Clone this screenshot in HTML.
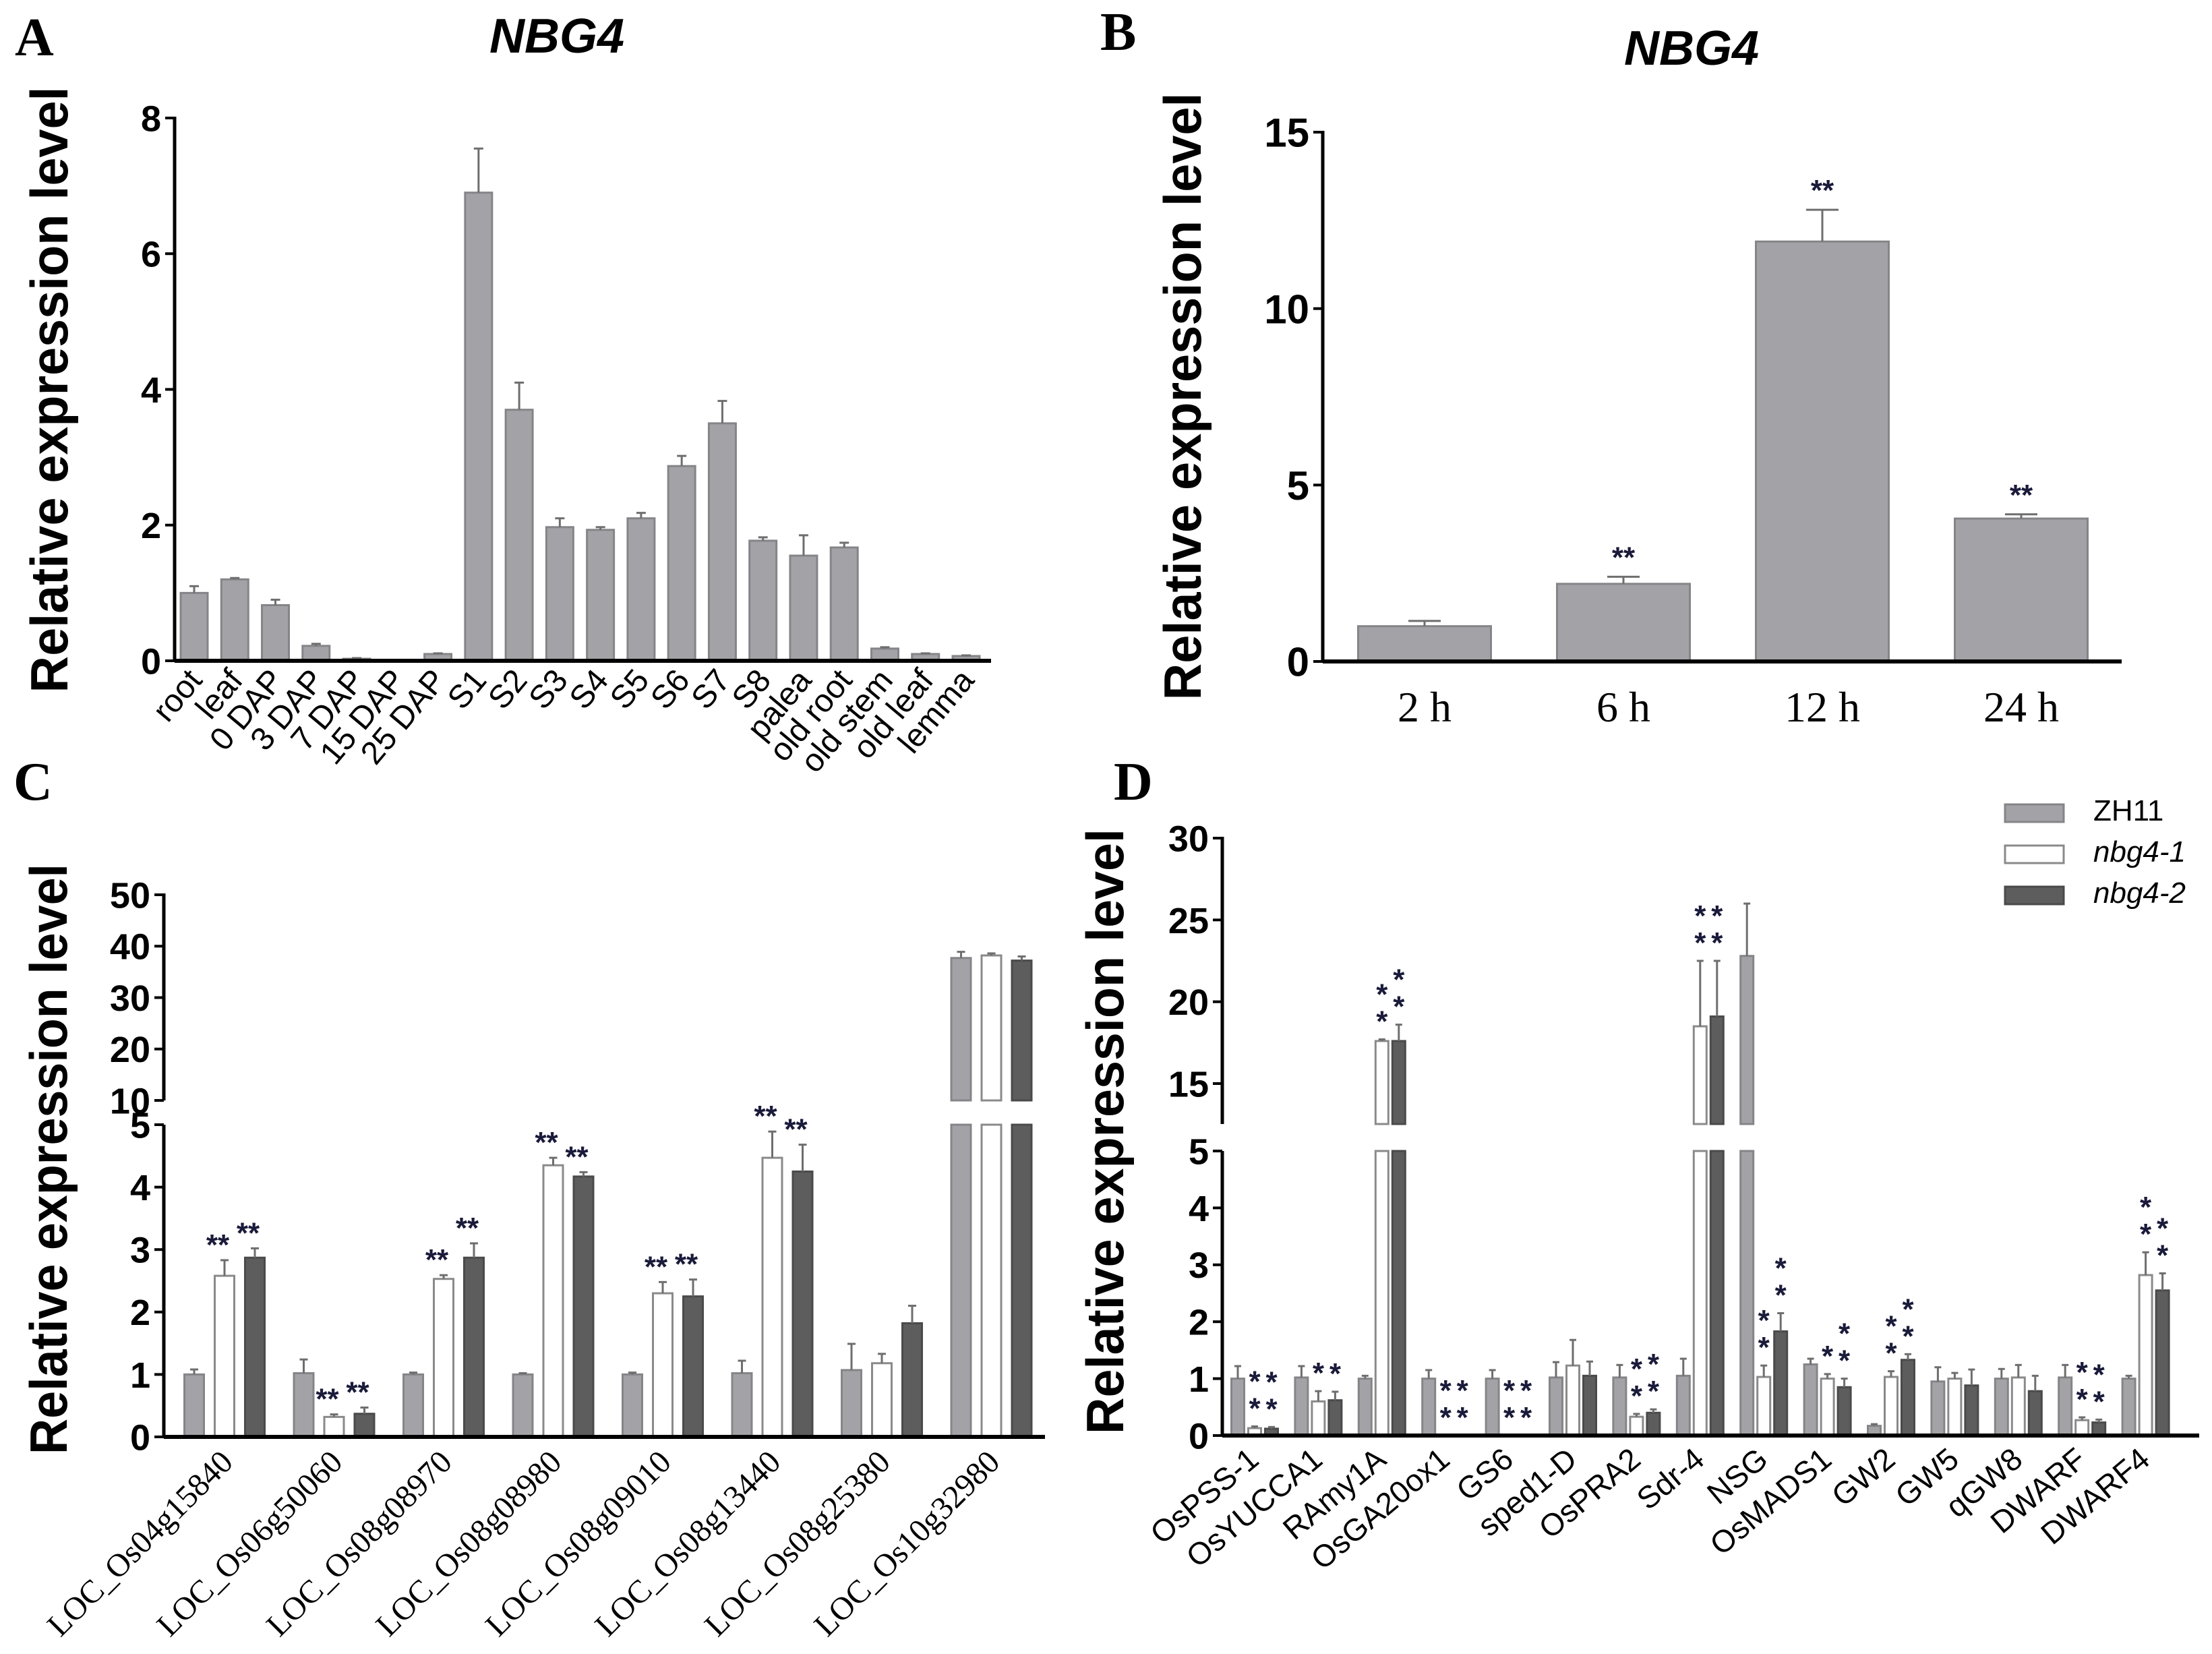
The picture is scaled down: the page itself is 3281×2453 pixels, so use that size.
<!DOCTYPE html>
<html><head><meta charset="utf-8">
<style>
html,body{margin:0;padding:0;background:#fff;}
svg{display:block;}
text{font-family:"Liberation Sans",Arial,sans-serif;}
.serif{font-family:"Liberation Serif","Times New Roman",serif;}
</style></head>
<body>
<svg id="chart" xmlns="http://www.w3.org/2000/svg" width="3281" height="2453" viewBox="0 0 3281 2453"></svg>
<script>
// ---------- Panel A data ----------
const catsA = ["root","leaf","0 DAP","3 DAP","7 DAP","15 DAP","25 DAP","S1","S2","S3","S4","S5","S6","S7","S8","palea","old root","old stem","old leaf","lemma"];
const valsA = [1.0,1.2,0.82,0.22,0.03,0.0,0.1,6.9,3.7,1.97,1.93,2.1,2.87,3.5,1.77,1.55,1.67,0.18,0.1,0.07];
const errsA = [0.1,0.02,0.08,0.03,0.01,0.0,0.01,0.65,0.4,0.13,0.04,0.08,0.15,0.33,0.05,0.3,0.07,0.02,0.01,0.01];
const ticksA = [0,2,4,6,8];
// ---------- Panel B data ----------
const catsB = ["2 h","6 h","12 h","24 h"];
const valsB = [1.0,2.2,11.9,4.05];
const errsB = [0.15,0.2,0.9,0.12];
const starsB = ["","**","**","**"];
const ticksB = [0,5,10,15];
// ---------- Panel C data ----------
const catsC = ["LOC_Os04g15840","LOC_Os06g50060","LOC_Os08g08970","LOC_Os08g08980","LOC_Os08g09010","LOC_Os08g13440","LOC_Os08g25380","LOC_Os10g32980"];
const zhC = [1.0,1.02,1.0,1.0,1.0,1.02,1.07,37.7];
const zhErrC = [0.08,0.22,0.03,0.02,0.03,0.2,0.42,1.2];
const n1C = [2.58,0.32,2.53,4.35,2.3,4.47,1.18,38.2];
const n1ErrC = [0.25,0.04,0.06,0.12,0.18,0.42,0.15,0.4];
const n2C = [2.87,0.37,2.87,4.17,2.25,4.25,1.82,37.2];
const n2ErrC = [0.15,0.1,0.23,0.07,0.27,0.43,0.28,0.8];
const starsC = [1,1,1,1,1,1,0,0];
const ticksCLow = [0,1,2,3,4,5];
const ticksCHigh = [10,20,30,40,50];
// ---------- Panel D data ----------
const catsD = ["OsPSS-1","OsYUCCA1","RAmy1A","OsGA20ox1","GS6","sped1-D","OsPRA2","Sdr-4","NSG","OsMADS1","GW2","GW5","qGW8","DWARF","DWARF4"];
const zhD = [1.0,1.02,1.0,1.0,1.0,1.02,1.02,1.05,22.8,1.25,0.17,0.95,1.0,1.02,1.0];
const zhErrD = [0.22,0.2,0.05,0.15,0.15,0.27,0.22,0.3,3.2,0.1,0.03,0.25,0.17,0.22,0.05];
const n1D = [0.13,0.6,17.6,0,0,1.23,0.33,18.5,1.03,1.0,1.03,1.0,1.02,0.27,2.82];
const n1ErrD = [0.03,0.18,0.1,0,0,0.45,0.05,4.0,0.2,0.08,0.1,0.1,0.22,0.05,0.4];
const n2D = [0.12,0.62,17.6,0,0,1.05,0.4,19.1,1.83,0.85,1.33,0.88,0.78,0.23,2.55];
const n2ErrD = [0.03,0.15,1.0,0,0,0.25,0.06,3.4,0.32,0.15,0.1,0.28,0.27,0.05,0.3];
const starsN1D = [2,1,2,2,2,0,2,2,2,1,2,0,0,2,2];
const starsN2D = [2,1,2,2,2,0,2,2,2,2,2,0,0,2,2];
const ticksDLow = [0,1,2,3,4,5];
const ticksDHigh = [15,20,25,30];
const legendD = ["ZH11","nbg4-1","nbg4-2"];

const NS = "http://www.w3.org/2000/svg";
const svg = document.getElementById('chart');
function mk(tag, attrs, parent){
  const e = document.createElementNS(NS, tag);
  for (const k in attrs) e.setAttribute(k, attrs[k]);
  (parent||svg).appendChild(e);
  return e;
}
const GRAY = "#a3a3a7", GRAYS = "#858589", DARK = "#5d5d5d", DARKS = "#4a4a4a", ERR = "#6e6e6e";

function panelLetter(t, x, y){
  const e = mk('text',{x:x,y:y,'font-size':80,'font-weight':'bold',class:'serif'});
  e.textContent = t;
  
  
}
function title(t, x, y){
  const e = mk('text',{x:x,y:y,'font-size':72,'font-weight':'bold','font-style':'italic','text-anchor':'middle'});
  e.textContent = t;
  
  
}
function yTitle(cx, cy, len){
  const e = mk('text',{x:0,y:0,'font-size':78,'font-weight':'bold','text-anchor':'middle',transform:`translate(${cx},${cy}) rotate(-90)`,textLength:len,lengthAdjust:'spacingAndGlyphs'});
  e.textContent = "Relative expression level";
  
  
}
function yTick(axX, yy, label, fs){
  const l = mk('line',{x1:axX-14,x2:axX,y1:yy,y2:yy,stroke:'#000','stroke-width':4});
  
  
  const t = mk('text',{x:axX-20,y:yy+fs*0.36,'font-size':fs,'font-weight':'bold','text-anchor':'end'});
  t.textContent = label;
  
  
}
function vline(x, y1, y2, name){
  const l = mk('line',{x1:x,x2:x,y1:y1,y2:y2,stroke:'#000','stroke-width':5});
  
  
}
function hline(x1, x2, y, name){
  const l = mk('line',{x1:x1,x2:x2,y1:y,y2:y,stroke:'#000','stroke-width':6});
  
  
}
function bar(cx, w, yTop, yBot, fill, stroke, name){
  const r = mk('rect',{x:cx-w/2,y:Math.min(yTop,yBot),width:w,height:Math.abs(yBot-yTop),fill:fill,stroke:stroke,'stroke-width':3});
  
  
}
function errBar(cx, y1, y2, cap){
  if (Math.abs(y1-y2) < 1) return;
  const g = mk('g',{stroke:ERR,'stroke-width':3});
  
  
  mk('line',{x1:cx,x2:cx,y1:y1,y2:y2},g);
  mk('line',{x1:cx-cap,x2:cx+cap,y1:y2,y2:y2},g);
}
function xLabel(x, y, t, fs, ang, serif){
  const e = mk('text',{x:0,y:0,'font-size':fs,'text-anchor':'end',transform:`translate(${x},${y}) rotate(${ang})`});
  if (serif) e.setAttribute('class','serif');
  e.textContent = t;
  
  
}
function star(x, y, t, fs){
  const e = mk('text',{x:x,y:y,'font-size':fs,'font-weight':'bold','text-anchor':'middle',fill:'#1a1a3a'});
  e.textContent = t;
  
  
}

// ================= Panel A =================
(function(){
  const ax = 259, y0 = 980, y8 = 175, xEnd = 1470;
  const y = v => y0 - v*(y0-y8)/8;
  const x = i => 288 + i*(1433-288)/(catsA.length-1);
  panelLetter("A", 22, 82);
  title("NBG4", 826, 78);
  yTitle(100, 578, 899);
  vline(ax, y8-2, y0, 'y-axis');
  ticksA.forEach(v => yTick(ax, y(v), String(v), 54));
  catsA.forEach((c,i) => {
    bar(x(i), 40, y(valsA[i]), y0, GRAY, GRAYS, 'bar-'+c.replace(/ /g,'-'));
    errBar(x(i), y(valsA[i]), y(valsA[i]+errsA[i]), 7);
    xLabel(x(i)+14, y0+30, c, 48, -50, false);
  });
  hline(ax, xEnd, y0, 'x-axis');
})();

// ================= Panel B =================
(function(){
  const ax = 1962, y0 = 981, y15 = 196, xEnd = 3147;
  const y = v => y0 - v*(y0-y15)/15;
  const x = i => 2113 + i*295;
  panelLetter("B", 1632, 74);
  title("NBG4", 2509, 96);
  yTitle(1781, 588, 901);
  vline(ax, y15-2, y0, 'y-axis');
  ticksB.forEach(v => yTick(ax, y(v), String(v), 60));
  catsB.forEach((c,i) => {
    bar(x(i), 197, y(valsB[i]), y0, GRAY, GRAYS, 'bar-'+c.replace(/ /g,''));
    errBar(x(i), y(valsB[i]), y(valsB[i]+errsB[i]), 24);
    if (starsB[i]) star(x(i), y(valsB[i]+errsB[i])-14, starsB[i], 44);
    const t = mk('text',{x:x(i),y:1070,'font-size':64,'text-anchor':'middle',class:'serif'});
    t.textContent = c;
    
    
  });
  hline(ax, xEnd, y0, 'x-axis');
})();

// ================= Panel C =================
(function(){
  const ax = 243, y0 = 2131, yL5 = 1668, yH10 = 1632, yH50 = 1327, xEnd = 1550;
  const y = v => v <= 5 ? y0 - v*(y0-yL5)/5 : yH10 - (v-10)*(yH10-yH50)/40;
  const gx = i => 288 + i*162.5;
  panelLetter("C", 20, 1186);
  yTitle(99, 1719, 876);
  vline(ax, yL5, y0, 'y-axis-lower');
  vline(ax, yH50-2, yH10, 'y-axis-upper');
  ticksCLow.forEach(v => yTick(ax, y(v), String(v), 54));
  ticksCHigh.forEach(v => yTick(ax, y(v), String(v), 54));
  const series = [[zhC,zhErrC,GRAY,GRAYS,'zh11'],[n1C,n1ErrC,'#ffffff','#8a8a8a','nbg4-1'],[n2C,n2ErrC,DARK,DARKS,'nbg4-2']];
  catsC.forEach((c,i) => {
    series.forEach((s,k) => {
      const cx = gx(i) + k*45, v = s[0][i], e = s[1][i];
      if (v > 5) {
        bar(cx, 29, y(5), y0, s[2], s[3], 'bar-'+s[4]+'-'+c);
        bar(cx, 29, y(v), yH10, s[2], s[3], 'bar-'+s[4]+'-'+c+'-upper');
      } else {
        bar(cx, 29, y(v), y0, s[2], s[3], 'bar-'+s[4]+'-'+c);
      }
      errBar(cx, y(v), y(v+e), 6);
      if (k > 0 && starsC[i]) star(cx-10, y(v+e)-8, "**", 44);
    });
    xLabel(gx(i)+60, y0+40, c, 48, -45, true);
  });
  hline(ax, xEnd, y0, 'x-axis');
})();

// ================= Panel D =================
(function(){
  const ax = 1813, y0 = 2129, yL5 = 1707, yH15 = 1607, yH30 = 1243, yHBot = 1667, xEnd = 3262;
  const y = v => v <= 5 ? y0 - v*(y0-yL5)/5 : yH15 - (v-15)*(yH15-yH30)/15;
  const gx = i => 1836 + i*94.4;
  panelLetter("D", 1652, 1186);
  yTitle(1666, 1678, 898);
  vline(ax, yL5, y0, 'y-axis-lower');
  vline(ax, yH30-2, yHBot, 'y-axis-upper');
  ticksDLow.forEach(v => yTick(ax, y(v), String(v), 54));
  ticksDHigh.forEach(v => yTick(ax, y(v), String(v), 54));
  const series = [[zhD,zhErrD,GRAY,GRAYS,'zh11',null],[n1D,n1ErrD,'#ffffff','#8a8a8a','nbg4-1',starsN1D],[n2D,n2ErrD,DARK,DARKS,'nbg4-2',starsN2D]];
  catsD.forEach((c,i) => {
    series.forEach((s,k) => {
      const cx = gx(i) + k*25, v = s[0][i], e = s[1][i];
      if (v > 5) {
        bar(cx, 19, y(5), y0, s[2], s[3], 'bar-'+s[4]+'-'+c);
        bar(cx, 19, y(v), yHBot, s[2], s[3], 'bar-'+s[4]+'-'+c+'-upper');
      } else if (v > 0) {
        bar(cx, 19, y(v), y0, s[2], s[3], 'bar-'+s[4]+'-'+c);
      }
      errBar(cx, y(v), y(v+e), 5);
      if (s[5] && s[5][i]) {
        const top = y(v+e);
        if (s[5][i] === 2) {
          star(cx, top-12, "*", 44);
          star(cx, top-52, "*", 44);
        } else {
          star(cx, top-12, "*", 44);
        }
      }
    });
    xLabel(gx(i)+34, y0+40, c, 46, -40, false);
  });
  hline(ax, xEnd, y0, 'x-axis');
  // legend
  const lf = [[GRAY,GRAYS],['#ffffff','#8a8a8a'],[DARK,DARKS]];
  legendD.forEach((t,i) => {
    const ly = 1193 + i*61;
    const r = mk('rect',{x:2974,y:ly,width:87,height:26,fill:lf[i][0],stroke:lf[i][1],'stroke-width':3});
    
    
    const tx = mk('text',{x:3105,y:ly+24,'font-size':44});
    if (i > 0) tx.setAttribute('font-style','italic');
    tx.textContent = t;
    
    
  });
})();
</script>
</body></html>
